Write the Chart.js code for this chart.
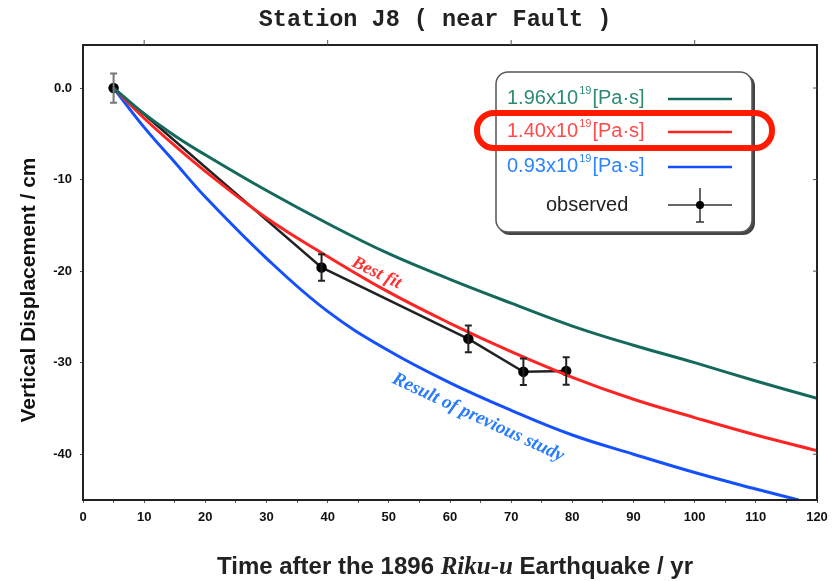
<!DOCTYPE html>
<html>
<head>
<meta charset="utf-8">
<script src="https://cdn.jsdelivr.net/npm/chart.js@4.4.1/dist/chart.umd.min.js"></script>
<style>
  html, body { margin: 0; padding: 0; background: #fff; }
  #wrap { width: 836px; height: 581px; position: relative; }
</style>
</head>
<body>
<div id="wrap"><canvas id="myChart"></canvas></div>
<script>
// model curves (years after 1896, vertical displacement in cm)
const curveYears = [5, 10, 15, 20, 30, 40, 50, 60, 70, 80, 90, 100, 110, 120];
const eta196 = [0, -2.8, -5.2, -7.3, -11.2, -14.8, -18.1, -20.9, -23.5, -26.0, -28.1, -30.0, -32.0, -33.9];
const eta140 = [0, -3.3, -6.3, -9.1, -14.2, -18.4, -22.3, -25.7, -28.8, -31.6, -34.0, -36.0, -37.9, -39.6];
const blueYears = [5, 10, 15, 20, 30, 40, 50, 60, 70, 80, 90, 100, 110, 117];
const eta093 = [0, -4.3, -8.1, -11.9, -18.6, -24.4, -28.7, -32.2, -35.2, -37.9, -40.0, -42.0, -43.8, -45.0];

// observed leveling data
const obsYears = [5, 39, 63, 72, 79];
const obsDisp = [0.0, -19.6, -27.4, -31.0, -30.9];
const obsErr = [1.6, 1.45, 1.45, 1.45, 1.5];

const xTicks = [0, 10, 20, 30, 40, 50, 60, 70, 80, 90, 100, 110, 120];
const yTicks = [0, -10, -20, -30, -40];

const GREEN = '#14695a', RED = '#ff2424', BLUE = '#1450ff';

function pts(xs, ys) {
  return xs.map((x, i) => ({ x: x, y: ys[i] }));
}

// draws frame extras, error bars, annotations, legend and axis titles
const extras = {
  id: 'extras',
  afterDatasetsDraw(chart) {
    const ctx = chart.ctx, xs = chart.scales.x, ys = chart.scales.y;
    ctx.save();
    obsYears.forEach((yr, i) => {
      const px = xs.getPixelForValue(yr);
      const top = ys.getPixelForValue(obsDisp[i] + obsErr[i]);
      const bot = ys.getPixelForValue(obsDisp[i] - obsErr[i]);
      ctx.strokeStyle = i === 0 ? '#777' : '#222';
      ctx.lineWidth = 2;
      ctx.beginPath();
      ctx.moveTo(px, top); ctx.lineTo(px, bot);
      ctx.moveTo(px - 3.5, top); ctx.lineTo(px + 3.5, top);
      ctx.moveTo(px - 3.5, bot); ctx.lineTo(px + 3.5, bot);
      ctx.stroke();
    });
    ctx.restore();
  },
  afterDraw(chart) {
    const ctx = chart.ctx, xs = chart.scales.x, ys = chart.scales.y;
    const a = chart.chartArea;
    ctx.save();

    // frame
    ctx.strokeStyle = '#222';
    ctx.lineWidth = 2;
    ctx.strokeRect(a.left, a.top, a.right - a.left, a.bottom - a.top);

    // small ticks on top and right
    ctx.lineWidth = 1;
    ctx.strokeStyle = '#555';
    [10, 40, 70, 100].forEach(v => {
      const px = xs.getPixelForValue(v);
      ctx.beginPath(); ctx.moveTo(px, a.top); ctx.lineTo(px, a.top - 5); ctx.stroke();
    });
    yTicks.forEach(v => {
      const py = ys.getPixelForValue(v);
      ctx.beginPath(); ctx.moveTo(a.right, py); ctx.lineTo(a.right - 4, py); ctx.stroke();
    });

    // title
    ctx.fillStyle = '#222';
    ctx.font = 'bold 23.5px "Liberation Mono", monospace';
    ctx.textAlign = 'center';
    ctx.textBaseline = 'middle';
    ctx.fillText('Station J8 ( near Fault )', 435, 20);

    // y axis title
    ctx.save();
    ctx.translate(29, 290);
    ctx.rotate(-Math.PI / 2);
    ctx.font = 'bold 21px "Liberation Sans", Arial, sans-serif';
    ctx.fillStyle = '#111';
    ctx.fillText('Vertical Displacement / cm', 0, 0);
    ctx.restore();

    // x axis title with italic place name
    const parts = [
      ['Time after the 1896 ', 'bold 24px "Liberation Sans", Arial, sans-serif'],
      ['Riku-u', 'bold italic 25px "Liberation Serif", serif'],
      [' Earthquake / yr', 'bold 24px "Liberation Sans", Arial, sans-serif']
    ];
    let total = 0;
    parts.forEach(p => { ctx.font = p[1]; total += ctx.measureText(p[0]).width; });
    let cx = 455 - total / 2;
    ctx.textAlign = 'left';
    ctx.textBaseline = 'alphabetic';
    parts.forEach(p => {
      ctx.font = p[1];
      ctx.fillText(p[0], cx, 574);
      cx += ctx.measureText(p[0]).width;
    });

    // curve annotations
    function rotText(txt, xv, yv, color, font, ang) {
      ctx.save();
      ctx.translate(xs.getPixelForValue(xv), ys.getPixelForValue(yv));
      ctx.rotate(ang * Math.PI / 180);
      ctx.font = font;
      ctx.fillStyle = color;
      ctx.textAlign = 'center';
      ctx.textBaseline = 'middle';
      ctx.fillText(txt, 0, 0);
      ctx.restore();
    }
    rotText('Best fit', 48.0, -20.2, '#ff3030', 'bold italic 18px "Liberation Serif", serif', 26);
    rotText('Result of previous study', 64.6, -36.0, '#2a7cff', 'bold italic 19px "Liberation Serif", serif', 25);

    // legend box
    function rrect(x, y, w, h, r) {
      ctx.beginPath();
      ctx.moveTo(x + r, y);
      ctx.arcTo(x + w, y, x + w, y + h, r);
      ctx.arcTo(x + w, y + h, x, y + h, r);
      ctx.arcTo(x, y + h, x, y, r);
      ctx.arcTo(x, y, x + w, y, r);
      ctx.closePath();
    }
    ctx.fillStyle = '#444';
    rrect(498, 74, 257, 161, 12);
    ctx.fill();
    ctx.fillStyle = '#fff';
    rrect(496, 72, 256, 160, 12);
    ctx.fill();
    ctx.strokeStyle = '#555';
    ctx.lineWidth = 1.5;
    ctx.stroke();

    const entries = [
      ['1.96', '#2e8a72', GREEN, 98],
      ['1.40', '#ff4a4a', RED, 131],
      ['0.93', '#2a85ff', BLUE, 166]
    ];
    entries.forEach(e => {
      let tx = 507;
      ctx.fillStyle = e[1];
      ctx.textBaseline = 'middle';
      ctx.textAlign = 'left';
      ctx.font = '20px "Liberation Sans", Arial, sans-serif';
      ctx.fillText(e[0] + 'x10', tx, e[3]);
      tx += ctx.measureText(e[0] + 'x10').width;
      ctx.font = '11px "Liberation Sans", Arial, sans-serif';
      ctx.fillText('19', tx + 1, e[3] - 7);
      tx += ctx.measureText('19').width + 2;
      ctx.font = '20px "Liberation Sans", Arial, sans-serif';
      ctx.fillText('[Pa\u00b7s]', tx, e[3]);
      ctx.strokeStyle = e[2];
      ctx.lineWidth = 2.5;
      ctx.beginPath(); ctx.moveTo(668, e[3] + 1); ctx.lineTo(732, e[3] + 1); ctx.stroke();
    });
    ctx.fillStyle = '#222';
    ctx.font = '20px "Liberation Sans", Arial, sans-serif';
    ctx.fillText('observed', 546, 205);
    ctx.strokeStyle = '#333';
    ctx.lineWidth = 1.5;
    ctx.beginPath();
    ctx.moveTo(668, 205); ctx.lineTo(732, 205);
    ctx.moveTo(700, 188); ctx.lineTo(700, 222);
    ctx.moveTo(696, 222); ctx.lineTo(704, 222);
    ctx.stroke();
    ctx.fillStyle = '#000';
    ctx.beginPath(); ctx.arc(700, 205, 4, 0, Math.PI * 2); ctx.fill();

    // highlight around the best fit entry
    ctx.strokeStyle = '#ff1a00';
    ctx.lineWidth = 6;
    rrect(477, 113, 295, 35, 17);
    ctx.stroke();

    ctx.restore();
  }
};

const tickFont = { family: '"Liberation Sans", Arial, sans-serif', size: 13, weight: 'bold' };

const config = {
  type: 'line',
  data: {
    datasets: [
      { label: '1.96x10^19 [Pa s]', data: pts(curveYears, eta196), borderColor: GREEN, borderWidth: 3, pointRadius: 0, tension: 0.4 },
      { label: '1.40x10^19 [Pa s]', data: pts(curveYears, eta140), borderColor: RED, borderWidth: 3, pointRadius: 0, tension: 0.4 },
      { label: '0.93x10^19 [Pa s]', data: pts(blueYears, eta093), borderColor: BLUE, borderWidth: 3, pointRadius: 0, tension: 0.4 },
      { label: 'observed', data: pts(obsYears, obsDisp), borderColor: '#222', borderWidth: 2.5, pointRadius: 4, pointBackgroundColor: '#000', pointBorderColor: '#000', tension: 0 }
    ]
  },
  options: {
    responsive: false,
    animation: false,
    layout: { padding: { top: 45, right: 19, left: 0, bottom: 0 } },
    plugins: { legend: { display: false }, tooltip: { enabled: false } },
    scales: {
      x: {
        type: 'linear',
        min: 0,
        max: 120,
        afterFit(s) { s.height = 81; },
        ticks: {
          stepSize: 5,
          autoSkip: false,
          maxRotation: 0,
          padding: 7,
          color: '#111',
          font: tickFont,
          callback: v => (xTicks.includes(v) ? String(v) : '')
        },
        grid: { drawOnChartArea: false, tickLength: 3, color: '#555' },
        border: { color: '#222', width: 2 }
      },
      y: {
        min: -45,
        max: 4.7,
        afterFit(s) { s.width = 83; },
        ticks: {
          stepSize: 10,
          includeBounds: false,
          padding: 8,
          color: '#111',
          font: tickFont,
          callback: v => (yTicks.includes(v) ? (v === 0 ? '0.0' : String(v)) : '')
        },
        grid: { drawOnChartArea: false, tickLength: 3, color: '#555' },
        border: { color: '#222', width: 2 }
      }
    }
  },
  plugins: [extras]
};

const canvas = document.getElementById('myChart');
canvas.width = 836;
canvas.height = 581;
const myChart = new Chart(canvas, config);
</script>
</body>
</html>
